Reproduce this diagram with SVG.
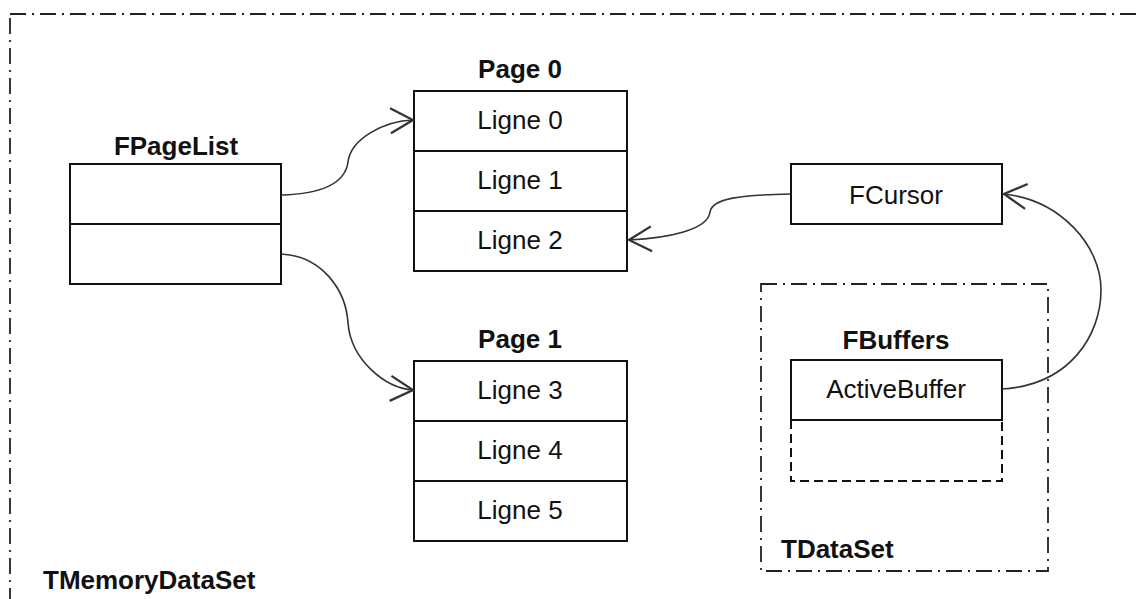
<svg xmlns="http://www.w3.org/2000/svg" width="1141" height="599" viewBox="0 0 1141 599">
  <style>
    .box { fill: #fff; stroke: #111; stroke-width: 2; }
    .sep { stroke: #111; stroke-width: 2; }
    .dashbox { fill: none; stroke: #111; stroke-width: 2; stroke-dasharray: 9 5; }
    .frame { fill: none; stroke: #222; stroke-width: 1.8; stroke-dasharray: 16 6 2 6; }
    .cell { font-family: "Liberation Sans", Arial, sans-serif; font-size: 26px; fill: #111; text-anchor: middle; }
    .title { font-family: "Liberation Sans", Arial, sans-serif; font-size: 26px; font-weight: bold; fill: #111; text-anchor: middle; }
    .frametitle { font-family: "Liberation Sans", Arial, sans-serif; font-size: 26px; font-weight: bold; fill: #111; }
    .link { fill: none; stroke: #333; stroke-width: 1.6; marker-end: url(#open); }
  </style>
  <defs>
    <marker id="open" markerUnits="userSpaceOnUse" markerWidth="30" markerHeight="30" viewBox="-20 -12 22 24" refX="0" refY="0" orient="auto">
      <path d="M -18 -10 L 0 0 L -18 10" fill="none" stroke="#333" stroke-width="1.8"/>
    </marker>
  </defs>

  <rect width="1141" height="599" fill="#fff"/>

  <!-- outer container -->
  <g id="tmemorydataset">
    <rect class="frame" x="10" y="14" width="1200" height="700"/>
    <text class="frametitle" x="43" y="589">TMemoryDataSet</text>
  </g>

  <!-- inner container -->
  <g id="tdataset">
    <rect class="frame" x="761" y="284" width="287" height="287"/>
    <text class="frametitle" x="781" y="558">TDataSet</text>
  </g>

  <g id="fpagelist">
    <text class="title" x="176" y="155">FPageList</text>
    <rect class="box" x="70" y="164" width="211" height="120"/>
    <line class="sep" x1="70" y1="224" x2="281" y2="224"/>
  </g>

  <g id="page0">
    <text class="title" x="520" y="78">Page 0</text>
    <rect class="box" x="414" y="91" width="213" height="180"/>
    <line class="sep" x1="414" y1="151" x2="627" y2="151"/>
    <line class="sep" x1="414" y1="211" x2="627" y2="211"/>
    <text class="cell" x="520" y="129">Ligne 0</text>
    <text class="cell" x="520" y="189">Ligne 1</text>
    <text class="cell" x="520" y="249">Ligne 2</text>
  </g>

  <g id="page1">
    <text class="title" x="520" y="348">Page 1</text>
    <rect class="box" x="414" y="361" width="213" height="180"/>
    <line class="sep" x1="414" y1="421" x2="627" y2="421"/>
    <line class="sep" x1="414" y1="481" x2="627" y2="481"/>
    <text class="cell" x="520" y="399">Ligne 3</text>
    <text class="cell" x="520" y="459">Ligne 4</text>
    <text class="cell" x="520" y="519">Ligne 5</text>
  </g>

  <g id="fcursor">
    <rect class="box" x="791" y="164" width="211" height="60"/>
    <text class="cell" x="896" y="204">FCursor</text>
  </g>

  <g id="fbuffers">
    <text class="title" x="896" y="349">FBuffers</text>
    <path class="dashbox" d="M 791 420 L 791 481 L 1002 481 L 1002 420"/>
    <rect class="box" x="791" y="360" width="211" height="60"/>
    <text class="cell" x="896" y="398">ActiveBuffer</text>
  </g>

  <g id="connectors">
    <path class="link" d="M 281 195 C 322 194 345 184 348 162 C 351 138 385 121 413 120"/>
    <path class="link" d="M 281 254 C 322 256 346 290 348 323 C 351 360 385 388 413 390"/>
    <path class="link" d="M 790 194 C 742 195 712 198 710 212 C 708 230 668 238 629 240"/>
    <path class="link" d="M 1002 389 C 1070 385 1101 335 1101 290 C 1101 245 1060 200 1004 194"/>
  </g>
</svg>
